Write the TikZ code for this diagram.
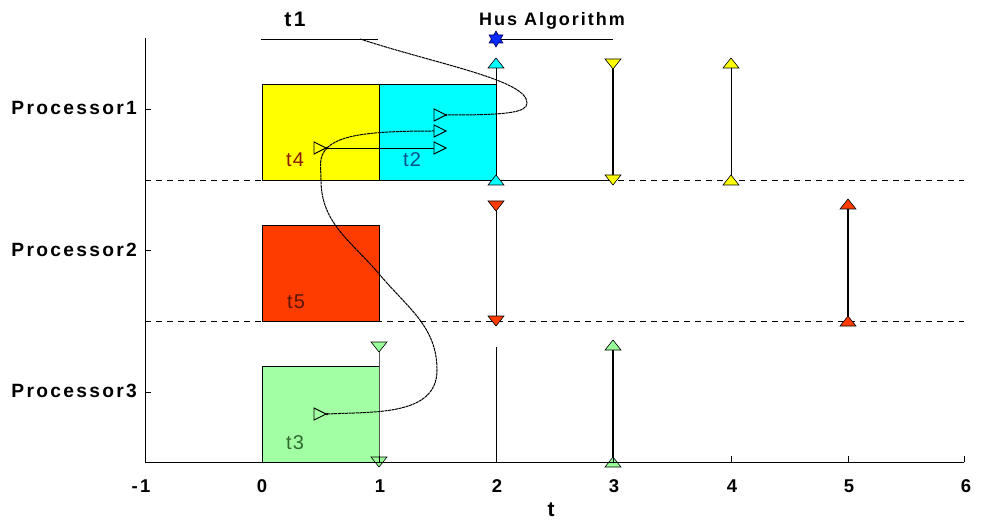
\documentclass[tikz,border=0pt]{standalone}
\usepackage{fontspec}
\setmainfont{Liberation Sans}
\newfontfamily\lsfont[LetterSpace=12]{Liberation Sans}
\newfontfamily\lsfonthus[LetterSpace=11]{Liberation Sans}
\newfontfamily\lsfonttask[LetterSpace=6]{Liberation Sans}
\definecolor{ycol}{HTML}{FFFF00}
\definecolor{ccol}{HTML}{00FFFF}
\definecolor{rcol}{HTML}{FF3C00}
\definecolor{gcol}{HTML}{A3FFA3}
\definecolor{gtri}{HTML}{99FF99}
\definecolor{bstar}{HTML}{0A2AFF}
\definecolor{tfour}{HTML}{8B1A00}
\definecolor{ttwo}{HTML}{00508C}
\definecolor{tfive}{HTML}{5A1500}
\definecolor{tthree}{HTML}{2E6B2E}
\tikzset{
  triup/.pic={\filldraw[pic actions, line width=0.6pt] (-8,-5) -- (8,-5) -- (0,5) -- cycle;},
  tridown/.pic={\filldraw[pic actions, line width=0.6pt] (-8,5) -- (8,5) -- (0,-5) -- cycle;},
  openright/.pic={\draw[line width=0.9pt] (-6,-6) -- (6,0) -- (-6,6) -- cycle;},
  hexstar/.pic={
    \filldraw[fill=bstar, draw=blue!35!black, line width=0.6pt] (0,8) -- (-6.9,-4) -- (6.9,-4) -- cycle;
    \filldraw[fill=bstar, draw=blue!35!black, line width=0.6pt] (0,-8) -- (6.9,4) -- (-6.9,4) -- cycle;
    \fill[bstar] (0,0) circle (4.2);},
  dep/.style={line width=1pt, dash pattern=on 3pt off 0.6pt},
  dashsep/.style={line width=0.8pt, dash pattern=on 6pt off 5pt},
  thinbar/.style={line width=0.9pt},
  thickbar/.style={line width=2pt},
  proclabel/.style={anchor=base east, font=\lsfont\bfseries\fontsize{19.2}{21}\selectfont, inner sep=0pt},
  ticklabel/.style={anchor=base, font=\lsfont\bfseries\fontsize{18.5}{20}\selectfont, inner sep=0pt},
  tasklabel/.style={anchor=base, font=\lsfonttask\fontsize{20}{22}\selectfont, inner sep=0pt},
}
\begin{document}
\begin{tikzpicture}[x=1pt,y=1pt]
\useasboundingbox (0,0) rectangle (982,520);
\fill[white] (0,0) rectangle (982,520);

% separators
\draw[dashsep] (145,340) -- (964,340);
\draw[dashsep] (145,199) -- (964,199);

% task blocks
\draw[fill=ycol, line width=0.8pt] (262,340) rectangle (379,436);
\draw[fill=ccol, line width=0.8pt] (379,340) rectangle (496,436);
\draw[fill=rcol, line width=0.8pt] (262,199) rectangle (379,295);
\draw[fill=gcol, line width=0.8pt] (262,58) rectangle (379,154);
\draw[line width=0.8pt] (262,340) -- (613,340);

% task labels
\node[tasklabel, text=tfour] (lt4) at (295,353) {t4};
\node[tasklabel, text=ttwo] (lt2) at (412,353) {t2};
\node[tasklabel, text=tfive] (lt5) at (296,212) {t5};
\node[tasklabel, text=tthree] (lt3) at (295,71) {t3};

% marker coordinates
\coordinate (c2top) at (496,457); \coordinate (c2bot) at (496,340);
\coordinate (y3top) at (613,456); \coordinate (y3bot) at (613,340);
\coordinate (y4top) at (731,457); \coordinate (y4bot) at (731,340);
\coordinate (r2top) at (496,314); \coordinate (r2bot) at (496,199);
\coordinate (r5top) at (848,316); \coordinate (r5bot) at (848,199);
\coordinate (g1top) at (379,173); \coordinate (g1bot) at (379,58);
\coordinate (p2top) at (496,173); \coordinate (p2bot) at (496,58);
\coordinate (g3top) at (613,175); \coordinate (g3bot) at (613,58);

% bars
\draw[thinbar] (c2top) -- (c2bot);
\draw[thickbar] (y3top) -- (y3bot);
\draw[thinbar] (y4top) -- (y4bot);
\draw[thinbar] (r2top) -- (r2bot);
\draw[thickbar] (r5top) -- (r5bot);
\draw[thinbar, draw=black!65] (g1top) -- (g1bot);
\draw[thinbar] (p2top) -- (p2bot);
\draw[thickbar] (g3top) -- (g3bot);

% markers
\pic[fill=ccol] at (c2top) {triup};
\pic[fill=ccol] at (c2bot) {triup};
\pic[fill=ycol] at (y3top) {tridown};
\pic[fill=ycol] at (y3bot) {tridown};
\pic[fill=ycol] at (y4top) {triup};
\pic[fill=ycol] at (y4bot) {triup};
\pic[fill=rcol] at (r2top) {tridown};
\pic[fill=rcol] at (r2bot) {tridown};
\pic[fill=rcol] at (r5top) {triup};
\pic[fill=rcol] at (r5bot) {triup};
\pic[fill=gtri] at (g1top) {tridown};
\pic[fill=gtri] at (g1bot) {tridown};
\pic[fill=gtri] at (g3top) {triup};
\pic[fill=gtri] at (g3bot) {triup};

% dependency markers
\coordinate (m2a) at (440,405); \coordinate (m2atip) at (446,405);
\coordinate (m2b) at (440,389); \coordinate (m2bin) at (434,389);
\coordinate (m2c) at (440,372); \coordinate (m2cin) at (434,372);
\coordinate (m4) at (320,372); \coordinate (m4tip) at (327,372);
\coordinate (m3) at (320,106); \coordinate (m3tip) at (327,106);
\pic at (m2a) {openright};
\pic at (m2b) {openright};
\pic at (m2c) {openright};
\pic at (m4) {openright};
\pic at (m3) {openright};
\fill (m2atip) circle (1.3); \fill (m4tip) circle (1.3); \fill (m3tip) circle (1.3);

% t1 legend line and dependency curves
\coordinate (t1a) at (261,481); \coordinate (t1b) at (378,481);
\coordinate (t1s) at (360,481);
\draw[line width=0.9pt] (t1a) -- (t1b);
\draw[dep] (t1s) .. controls (440,455) and (527,440) .. (527,417)
  .. controls (527,407) and (505,405) .. (m2atip);
\draw[line width=0.8pt] (m4tip) -- (m2cin);
\draw[dep] (m4tip) .. controls (340,385) and (370,389) .. (m2bin);
\draw[dep] (m3tip) to[out=3,in=-90] (437,150) to[out=90,in=-50] (380,245)
  to[out=130,in=-90] (321,340) to[out=90,in=-135] (m4tip);

% Hus legend
\coordinate (hs) at (496,481); \coordinate (he) at (613,481);
\draw[line width=0.9pt] (hs) -- (he);
\pic at (hs) {hexstar};
\node[anchor=base, font=\lsfont\bfseries\fontsize{21}{23}\selectfont, inner sep=0pt] (lt1) at (295,493) {t1};
\node[anchor=base, font=\lsfonthus\bfseries\fontsize{18}{20}\selectfont, inner sep=0pt] (lhus) at (552,494) {Hus Algorithm};

% axes
\coordinate (o) at (145,58); \coordinate (ytop) at (145,482); \coordinate (xend) at (964,58);
\draw[line width=1pt] (ytop) -- (o) -- (xend);
\foreach \xv in {145,262,379,496,613,731,848,964} \draw[line width=1pt] (\xv,58) -- (\xv,64);
\foreach \yv in {410,269,128} \draw[line width=1pt] (145,\yv) -- (151,\yv);
\node[ticklabel] (xm1) at (141,28) {-1};
\node[ticklabel] (x0) at (262,28) {0};
\node[ticklabel] (x1) at (380,28) {1};
\node[ticklabel] (x2) at (497,28) {2};
\node[ticklabel] (x3) at (614,28) {3};
\node[ticklabel] (x4) at (732,28) {4};
\node[ticklabel] (x5) at (849,28) {5};
\node[ticklabel] (x6) at (966,28) {6};
\node[anchor=base, font=\bfseries\fontsize{21}{22}\selectfont, inner sep=0pt] (xlab) at (551,4) {t};
\node[proclabel] (p1) at (137,405) {Processor1};
\node[proclabel] (p2) at (137,263) {Processor2};
\node[proclabel] (p3) at (137,123) {Processor3};
\end{tikzpicture}
\end{document}
